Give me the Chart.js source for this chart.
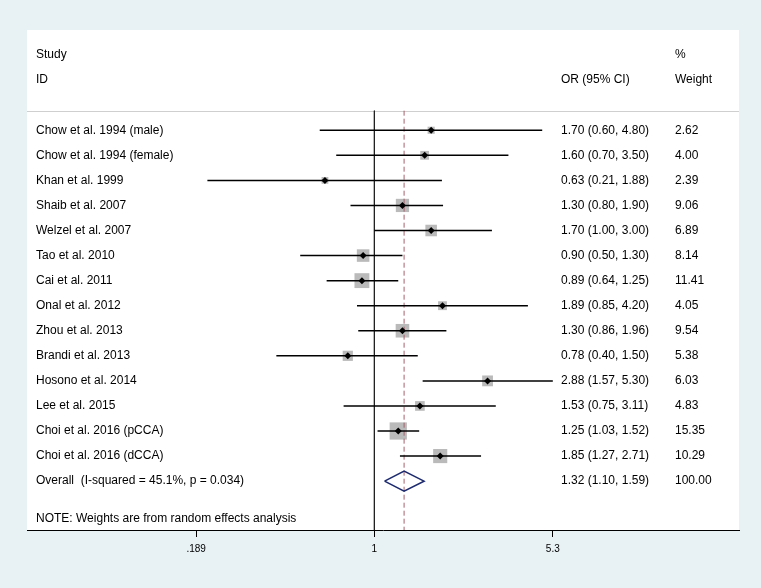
<!DOCTYPE html>
<html>
<head>
<meta charset="utf-8">
<script src="https://cdn.jsdelivr.net/npm/chart.js@4.4.1/dist/chart.umd.min.js"></script>
<style>
  html, body { margin: 0; padding: 0; background: #e8f1f3; }
  #forest { display: block; }
</style>
</head>
<body>
<canvas id="forest" width="761" height="588"></canvas>
<script>
// studies, odds ratios, 95% CI and weights
const studies = ['Chow et al. 1994 (male)', 'Chow et al. 1994 (female)', 'Khan et al. 1999',
  'Shaib et al. 2007', 'Welzel et al. 2007', 'Tao et al. 2010', 'Cai et al. 2011',
  'Onal et al. 2012', 'Zhou et al. 2013', 'Brandi et al. 2013', 'Hosono et al. 2014',
  'Lee et al. 2015', 'Choi et al. 2016 (pCCA)', 'Choi et al. 2016 (dCCA)'];
const oddsRatio = [1.70, 1.60, 0.63, 1.30, 1.70, 0.90, 0.89, 1.89, 1.30, 0.78, 2.88, 1.53, 1.25, 1.85];
const lower = [0.60, 0.70, 0.21, 0.80, 1.00, 0.50, 0.64, 0.85, 0.86, 0.40, 1.57, 0.75, 1.03, 1.27];
const upper = [4.80, 3.50, 1.88, 1.90, 3.00, 1.30, 1.25, 4.20, 1.96, 1.50, 5.30, 3.11, 1.52, 2.71];
const weights = [2.62, 4.00, 2.39, 9.06, 6.89, 8.14, 11.41, 4.05, 9.54, 5.38, 6.03, 4.83, 15.35, 10.29];

const overallLabel = 'Overall  (I-squared = 45.1%, p = 0.034)';
const overall = [1.32, 1.10, 1.59]; // OR, lower, upper
const overallWeight = 100.00;
const noteText = 'NOTE: Weights are from random effects analysis';

const xTicks = [0.189, 1, 5.3];
const xTickLabels = ['.189', '1', '5.3'];

// row positions (y axis runs in row units, top to bottom)
const overallRow = studies.length;
const noteRow = overallRow + 1.5;
const headerLineRow = -0.78;
const axisEndRow = 15.95;

const fmt = v => v.toFixed(2);

const ciSets = studies.map((s, i) => ({
  type: 'scatter',
  data: [{ x: lower[i], y: i }, { x: upper[i], y: i }],
  showLine: true,
  borderColor: '#000',
  borderWidth: 1.5,
  pointRadius: 0,
  order: 3
}));

const textPlugin = {
  id: 'forestText',
  beforeDraw(chart) {
    const { ctx, chartArea: a, scales: { y } } = chart;
    ctx.save();
    ctx.fillStyle = '#ffffff';
    ctx.fillRect(a.left, a.top, a.right - a.left, a.bottom - a.top);
    const hy = Math.round(y.getPixelForValue(headerLineRow)) + 0.5;
    ctx.strokeStyle = '#cfcfcf';
    ctx.lineWidth = 1;
    ctx.beginPath();
    ctx.moveTo(a.left, hy);
    ctx.lineTo(a.right, hy);
    ctx.stroke();
    ctx.restore();
  },
  afterDatasetsDraw(chart) {
    const { ctx, scales: { y } } = chart;
    ctx.save();
    ctx.font = '12px "Liberation Sans", Arial, sans-serif';
    ctx.fillStyle = '#000';
    ctx.textBaseline = 'middle';
    ctx.textAlign = 'left';
    const colName = 36, colOr = 561, colW = 675;
    ctx.fillText('Study', colName, y.getPixelForValue(-3));
    ctx.fillText('ID', colName, y.getPixelForValue(-2));
    ctx.fillText('OR (95% CI)', colOr, y.getPixelForValue(-2));
    ctx.fillText('%', colW, y.getPixelForValue(-3));
    ctx.fillText('Weight', colW, y.getPixelForValue(-2));
    studies.forEach((s, i) => {
      const py = y.getPixelForValue(i);
      ctx.fillText(s, colName, py);
      ctx.fillText(fmt(oddsRatio[i]) + ' (' + fmt(lower[i]) + ', ' + fmt(upper[i]) + ')', colOr, py);
      ctx.fillText(fmt(weights[i]), colW, py);
    });
    const oy = y.getPixelForValue(overallRow);
    ctx.fillText(overallLabel, colName, oy);
    ctx.fillText(fmt(overall[0]) + ' (' + fmt(overall[1]) + ', ' + fmt(overall[2]) + ')', colOr, oy);
    ctx.fillText(fmt(overallWeight), colW, oy);
    ctx.fillText(noteText, colName, y.getPixelForValue(noteRow));
    ctx.restore();
  }
};

new Chart(document.getElementById('forest'), {
  type: 'scatter',
  data: {
    datasets: [
      {
        // weight boxes
        data: oddsRatio.map((v, i) => ({ x: v, y: i })),
        pointStyle: 'rect',
        pointRadius: weights.map(w => 4.4 * Math.sqrt(w) / Math.SQRT2),
        backgroundColor: '#bababa',
        borderWidth: 0,
        order: 6
      },
      {
        // line of no effect
        data: [{ x: 1, y: headerLineRow }, { x: 1, y: axisEndRow }],
        showLine: true,
        borderColor: '#222',
        borderWidth: 1,
        pointRadius: 0,
        order: 5
      },
      {
        // overall estimate
        data: [{ x: overall[0], y: headerLineRow }, { x: overall[0], y: axisEndRow }],
        showLine: true,
        borderColor: '#a8606c',
        borderWidth: 1,
        borderDash: [5, 3],
        pointRadius: 0,
        order: 4
      },
      ...ciSets,
      {
        // point estimates
        data: oddsRatio.map((v, i) => ({ x: v, y: i })),
        pointStyle: 'rectRot',
        pointRadius: 3.5,
        backgroundColor: '#000',
        borderWidth: 0,
        order: 1
      },
      {
        // pooled diamond
        data: [
          { x: overall[1], y: overallRow },
          { x: overall[0], y: overallRow - 0.4 },
          { x: overall[2], y: overallRow },
          { x: overall[0], y: overallRow + 0.4 },
          { x: overall[1], y: overallRow }
        ],
        showLine: true,
        borderColor: '#1c2a6e',
        borderWidth: 1.6,
        pointRadius: 0,
        order: 2
      }
    ]
  },
  options: {
    responsive: false,
    animation: false,
    events: [],
    layout: { padding: { left: 27, right: 22, top: 30, bottom: 0 } },
    plugins: { legend: { display: false }, tooltip: { enabled: false } },
    scales: {
      x: {
        type: 'logarithmic',
        min: 0.0389,
        max: 30.2,
        afterBuildTicks(scale) { scale.ticks = xTicks.map(v => ({ value: v })); },
        afterFit(scale) { scale.height = 58; },
        grid: { drawOnChartArea: false, drawTicks: true, tickLength: 7, color: '#000' },
        border: { display: true, color: '#000', width: 1 },
        ticks: {
          autoSkip: false,
          maxRotation: 0,
          padding: 6,
          color: '#000',
          font: { family: '"Liberation Sans", Arial, sans-serif', size: 10 },
          callback: (v, i) => xTickLabels[i]
        }
      },
      y: {
        type: 'linear',
        reverse: true,
        min: -4,
        max: axisEndRow,
        display: false
      }
    }
  },
  plugins: [textPlugin]
});
</script>
</body>
</html>
